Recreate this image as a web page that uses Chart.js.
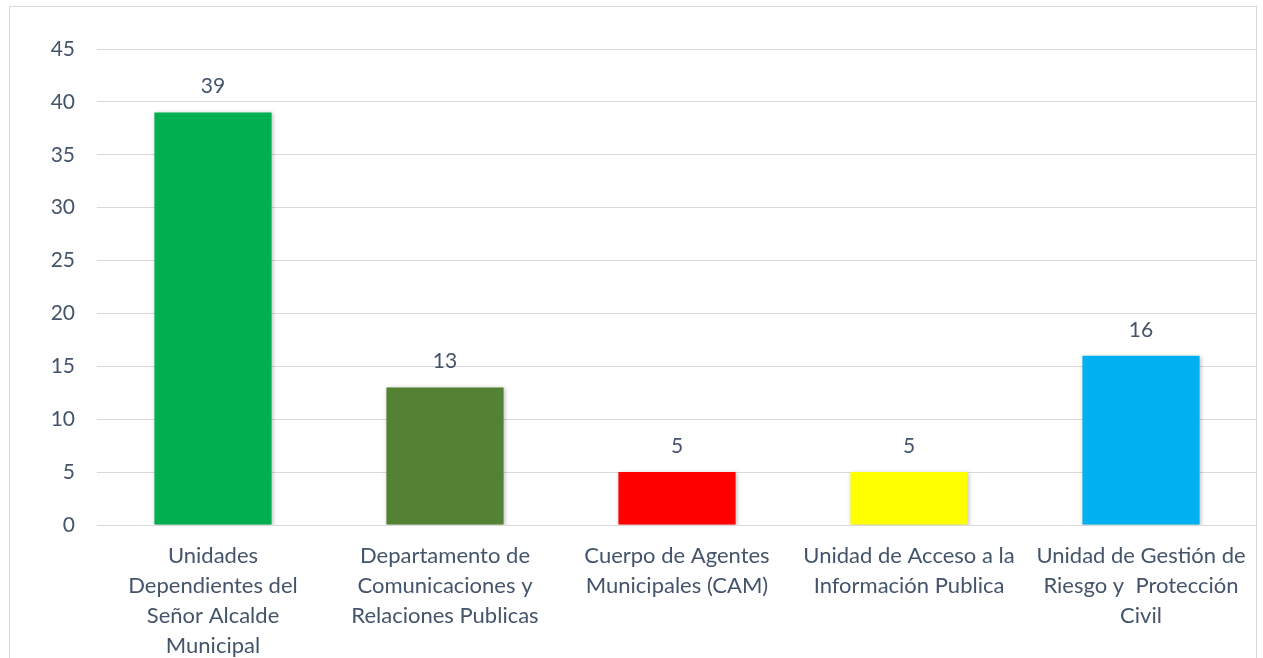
<!DOCTYPE html>
<html><head><meta charset="utf-8">
<script src="https://cdn.jsdelivr.net/npm/chart.js@4"></script>
<style>
html,body{margin:0;padding:0;background:#fff;overflow:hidden}
#wrap{position:absolute;left:0;top:0;width:1263px;height:658px}
#frame{position:absolute;left:9px;top:6px;width:1248px;height:700px;border:1px solid #d9d9d9;box-sizing:border-box}
canvas{position:absolute;left:0;top:0}
</style></head>
<body>
<div id="wrap"><div id="frame"></div><canvas id="c" width="1263" height="658"></canvas></div>
<script>
const categories = [
  ["Unidades","Dependientes del","Señor Alcalde","Municipal"],
  ["Departamento de","Comunicaciones y","Relaciones Publicas"],
  ["Cuerpo de Agentes","Municipales (CAM)"],
  ["Unidad de Acceso a la","Información Publica"],
  ["Unidad de Gestión de","Riesgo y  Protección","Civil"]
];
const values = [39, 13, 5, 5, 16];
const barColors = ["#00B050", "#548235", "#FF0000", "#FFFF00", "#00B0F0"];
const yTicks = [0, 5, 10, 15, 20, 25, 30, 35, 40, 45];

const FONT = "Lato, 'Open Sans', sans-serif";
const TXT = "#44546A";

const valueLabels = {
  id: 'valueLabels',
  afterDatasetsDraw(chart) {
    const ctx = chart.ctx;
    const meta = chart.getDatasetMeta(0);
    ctx.save();
    ctx.font = "21px " + FONT;
    ctx.fillStyle = TXT;
    ctx.textAlign = "center";
    ctx.textBaseline = "middle";
    meta.data.forEach((bar, i) => {
      ctx.fillText(String(values[i]), bar.x, bar.y - 26);
    });
    ctx.restore();
  }
};
const shadow = {
  id: 'shadow',
  beforeDatasetsDraw(chart) {
    const ctx = chart.ctx;
    ctx.save();
    ctx.shadowColor = "rgba(0,0,0,0.25)";
    ctx.shadowBlur = 4;
    ctx.shadowOffsetX = 1;
    ctx.shadowOffsetY = 1;
  },
  afterDatasetsDraw(chart) { chart.ctx.restore(); }
};

new Chart(document.getElementById('c'), {
  type: 'bar',
  data: {
    labels: categories,
    datasets: [{ data: values, backgroundColor: barColors, borderWidth: 0, categoryPercentage: 1, barPercentage: 0.505 }]
  },
  options: {
    responsive: false,
    animation: false,
    layout: { padding: { left: 0, right: 6, top: 49, bottom: 0 } },
    plugins: { legend: { display: false }, tooltip: { enabled: false } },
    scales: {
      x: {
        grid: { display: false, drawTicks: false },
        border: { display: false },
        ticks: { color: TXT, font: { family: FONT, size: 22, lineHeight: 1.36 }, padding: 16, maxRotation: 0, autoSkip: false },
        afterFit(s) { s.height = 133; }
      },
      y: {
        min: 0, max: 45,
        afterBuildTicks(s) { s.ticks = yTicks.map(v => ({ value: v })); },
        grid: { color: "#D9D9D9", lineWidth: 1, drawTicks: false },
        border: { display: false },
        ticks: { color: TXT, font: { family: FONT, size: 21 }, padding: 22 },
        afterFit(s) { s.width = 97; }
      }
    }
  },
  plugins: [shadow, valueLabels]
});
</script>
</body></html>
